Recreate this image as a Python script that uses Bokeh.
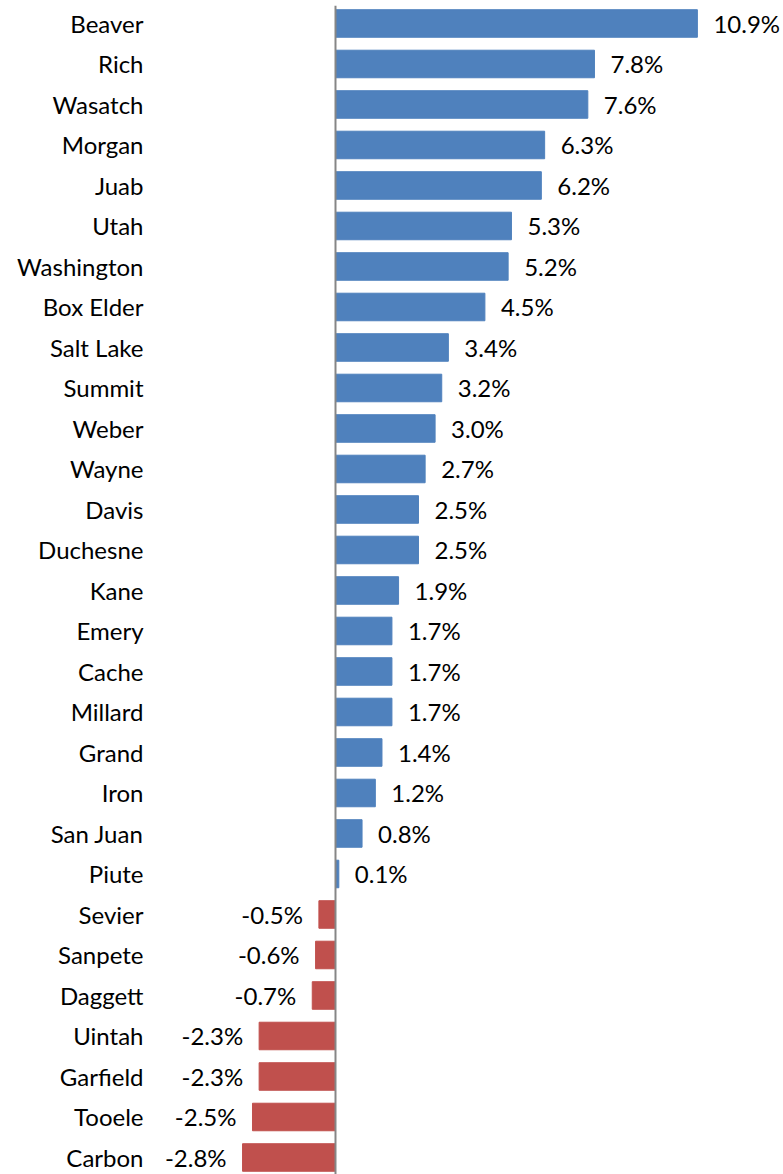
from bokeh.plotting import figure
from bokeh.models import ColumnDataSource, Range1d, FixedTicker, Span
from bokeh.core.properties import value
from bokeh.embed import file_html
from bokeh.resources import INLINE

counties = ["Beaver", "Rich", "Wasatch", "Morgan", "Juab", "Utah", "Washington",
            "Box Elder", "Salt Lake", "Summit", "Weber", "Wayne", "Davis", "Duchesne",
            "Kane", "Emery", "Cache", "Millard", "Grand", "Iron", "San Juan", "Piute",
            "Sevier", "Sanpete", "Daggett", "Uintah", "Garfield", "Tooele", "Carbon"]
change_pct = [10.9, 7.8, 7.6, 6.3, 6.2, 5.3, 5.2, 4.5, 3.4, 3.2, 3.0, 2.7, 2.5, 2.5,
              1.9, 1.7, 1.7, 1.7, 1.4, 1.2, 0.8, 0.1,
              -0.5, -0.6, -0.7, -2.3, -2.3, -2.5, -2.8]

BLUE = "#4F81BD"
RED = "#C0504D"
FONT = "Lato"

idx = list(range(len(counties)))
pos = [i for i in idx if change_pct[i] >= 0]
neg = [i for i in idx if change_pct[i] < 0]

def src(ids):
    return ColumnDataSource(dict(
        y=ids,
        v=[change_pct[i] for i in ids],
        lab=[f"{change_pct[i]:.1f}%" for i in ids],
    ))

spos, sneg = src(pos), src(neg)

p = figure(width=783, height=1174, output_backend="svg", toolbar_location=None,
           x_range=Range1d(-5.572, 13.494), y_range=Range1d(28.42, -0.444),
           min_border_left=150, min_border_right=0, min_border_top=5, min_border_bottom=0)
p.outline_line_color = None
p.xgrid.visible = False
p.ygrid.visible = False
p.xaxis.visible = False

p.hbar(y="y", left=0, right="v", height=0.68, source=spos, fill_color=BLUE, line_color=BLUE)
p.hbar(y="y", left="v", right=0, height=0.68, source=sneg, fill_color=RED, line_color=RED)

p.add_layout(Span(location=0, dimension="height", line_color="#868686", line_width=2))

p.text(x="v", y="y", text="lab", source=spos, x_offset=16, text_align="left",
       text_baseline="middle", text_font=value(FONT), text_font_size="24px", text_color="#000000")
p.text(x="v", y="y", text="lab", source=sneg, x_offset=-16, text_align="right",
       text_baseline="middle", text_font=value(FONT), text_font_size="24px", text_color="#000000")

ax = p.yaxis[0]
ax.ticker = FixedTicker(ticks=idx)
ax.major_label_overrides = {i: c for i, c in enumerate(counties)}
ax.axis_line_color = None
ax.major_tick_line_color = None
ax.minor_tick_line_color = None
ax.major_tick_out = 0
ax.major_tick_in = 0
ax.major_label_standoff = 7
ax.major_label_text_font = FONT
ax.major_label_text_font_size = "24px"
ax.major_label_text_color = "#000000"

open("out.html", "w").write(file_html(p, INLINE))
